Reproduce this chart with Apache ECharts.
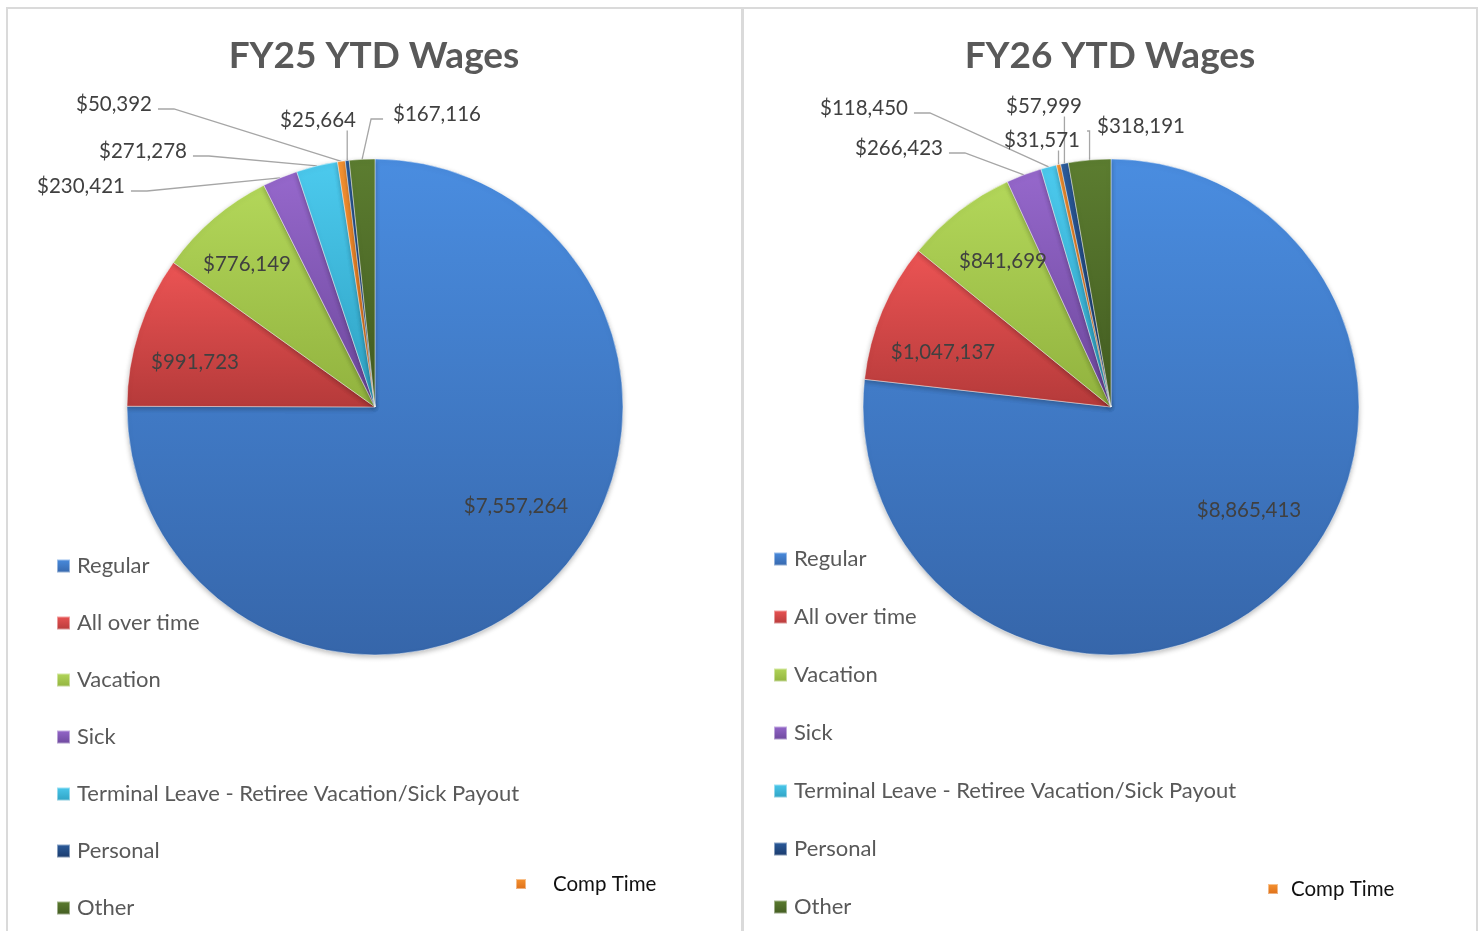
<!doctype html>
<html>
<head>
<meta charset="utf-8">
<title>FY25 / FY26 YTD Wages</title>
<script src="https://cdn.jsdelivr.net/npm/echarts@6/dist/echarts.min.js"></script>
<style>
  html, body { margin: 0; padding: 0; background: #fff; }
  #main { width: 1480px; height: 931px; }
</style>
</head>
<body>
<div id="main"></div>
<script>
// slice order (clockwise from 12 o'clock)
var categories = ['Regular', 'All over time', 'Vacation', 'Sick',
  'Terminal Leave - Retiree Vacation/Sick Payout', 'Comp Time', 'Personal', 'Other'];
var fy25Values = [7557264, 991723, 776149, 230421, 271278, 50392, 25664, 167116];
var fy26Values = [8865413, 1047137, 841699, 266423, 118450, 31571, 57999, 318191];
var titles = ['FY25 YTD Wages', 'FY26 YTD Wages'];
var legendMain = ['Regular', 'All over time', 'Vacation', 'Sick',
  'Terminal Leave - Retiree Vacation/Sick Payout', 'Personal', 'Other'];
var legendExtra = ['Comp Time'];

// light -> dark for the bevel look
var colors = {
  'Regular': ['#4a8de0', '#3666aa'],
  'All over time': ['#ec5454', '#b53a3a'],
  'Vacation': ['#b3d75a', '#91b23e'],
  'Sick': ['#9668cc', '#6c479b'],
  'Terminal Leave - Retiree Vacation/Sick Payout': ['#4ccaee', '#2ea1c2'],
  'Comp Time': ['#f79432', '#dc6e18'],
  'Personal': ['#2c5d9e', '#19396a'],
  'Other': ['#5c7d30', '#425b21']
};

// label anchors (label centre) and how the leader line attaches
var labelAnchors = [
  [[516, 506, 'in'], [195, 362, 'in'], [247, 264, 'in'], [81, 186, 'right'],
   [143, 151, 'right'], [114, 104, 'right'], [318, 120, 'bottom'], [437, 114, 'left']],
  [[1249, 510, 'in'], [943, 352, 'in'], [1003, 261, 'in'], [899, 148, 'right'],
   [864, 108, 'right'], [1042, 140, 'bottom'], [1044, 106, 'bottom'], [1141, 126, 'left']]
];
var pieCenters = [[375, 407], [1111, 407]];

function grad(c) {
  return new echarts.graphic.LinearGradient(0, 0, 0, 1, [
    { offset: 0, color: c[0] },
    { offset: 1, color: c[1] }
  ]);
}

function money(v) {
  return '$' + v.toLocaleString('en-US');
}

function makeLayout(si) {
  return function (p) {
    var a = labelAnchors[si][p.dataIndex];
    var out = { x: a[0], y: a[1], align: 'center', verticalAlign: 'middle', hideOverlap: false };
    if (a[2] === 'in' || !p.labelLinePoints) return out;
    var e = p.labelLinePoints[0];
    var w = p.labelRect.width, h = p.labelRect.height;
    var L = a[0] - w / 2, R = a[0] + w / 2, B = a[1] + h / 2;
    var pts;
    if (a[2] === 'right') {
      var ex = R + 6, ey = a[1] + 5;
      pts = [e, [ex + 16, ey], [ex, ey]];
    } else if (a[2] === 'bottom') {
      pts = [e, [e[0], B], [e[0], B]];
    } else {
      var lx = L - 10, ly = a[1] + 5;
      pts = [e, [Math.max(lx - 12, e[0]), ly], [lx, ly]];
    }
    out.labelLinePoints = pts;
    return out;
  };
}

function makeSeries(si, values) {
  return {
    name: titles[si],
    type: 'pie',
    center: pieCenters[si],
    radius: 248,
    startAngle: 90,
    clockwise: true,
    avoidLabelOverlap: false,
    minShowLabelAngle: 0,
    silent: true,
    itemStyle: {
      borderColor: 'rgba(255,255,255,0.45)',
      borderWidth: 1,
      shadowBlur: 5,
      shadowOffsetY: 2,
      shadowColor: 'rgba(0,0,0,0.25)'
    },
    label: {
      formatter: function (p) { return money(p.value); },
      fontFamily: 'Lato',
      fontSize: 20.5,
      color: '#404040'
    },
    labelLine: {
      show: true,
      lineStyle: { color: '#a6a6a6', width: 1.3 }
    },
    labelLayout: makeLayout(si),
    data: categories.map(function (n, i) {
      var inside = labelAnchors[si][i][2] === 'in';
      return {
        name: n,
        value: values[i],
        itemStyle: { color: grad(colors[n]) },
        label: { position: inside ? 'inside' : 'outside' },
        labelLine: { show: !inside }
      };
    })
  };
}

function mainLegend(left, top, gap) {
  return {
    orient: 'vertical',
    left: left,
    top: top,
    padding: 0,
    itemWidth: 13,
    itemHeight: 13,
    itemGap: gap,
    icon: 'rect',
    selectedMode: false,
    data: legendMain,
    textStyle: { fontFamily: 'Lato', fontSize: 22, color: '#595959', lineHeight: 24, padding: [0, 0, 0, 2] }
  };
}

function extraLegend(left, top, pad) {
  return {
    orient: 'vertical',
    left: left,
    top: top,
    padding: 0,
    itemWidth: 10,
    itemHeight: 10,
    icon: 'rect',
    selectedMode: false,
    data: legendExtra,
    textStyle: { fontFamily: 'Lato', fontSize: 20.5, color: '#111', lineHeight: 22, padding: [0, 0, 0, pad] }
  };
}

var option = {
  backgroundColor: '#fff',
  animation: false,
  title: [
    { text: titles[0], left: 369, top: 33, textAlign: 'center',
      textStyle: { fontFamily: 'Lato', fontWeight: 'bold', fontSize: 37, color: '#595959' } },
    { text: titles[1], left: 1105, top: 33, textAlign: 'center',
      textStyle: { fontFamily: 'Lato', fontWeight: 'bold', fontSize: 37, color: '#595959' } }
  ],
  legend: [
    mainLegend(56, 554, 33),
    mainLegend(773, 547, 34),
    extraLegend(515, 873, 22),
    extraLegend(1267, 878, 8)
  ],
  graphic: [
    { type: 'rect', silent: true, shape: { x: 7, y: 8, width: 735, height: 940 },
      style: { fill: 'none', stroke: '#dadada', lineWidth: 2 } },
    { type: 'rect', silent: true, shape: { x: 743, y: 8, width: 734, height: 940 },
      style: { fill: 'none', stroke: '#dadada', lineWidth: 2 } }
  ],
  series: [makeSeries(0, fy25Values), makeSeries(1, fy26Values)]
};

var myChart = echarts.init(document.getElementById('main'));
myChart.setOption(option);
</script>
</body>
</html>
